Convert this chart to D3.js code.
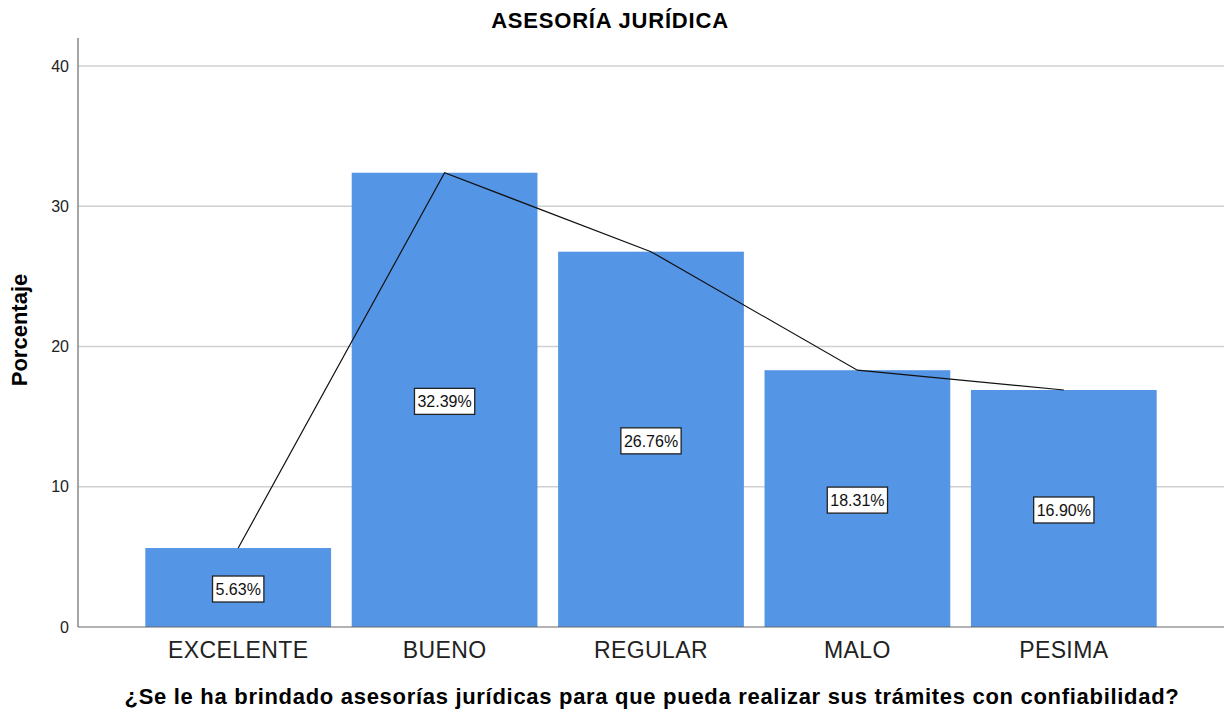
<!DOCTYPE html>
<html>
<head>
<meta charset="utf-8">
<script src="https://cdn.jsdelivr.net/npm/d3@7"></script>
<style>
  body { margin: 0; background: #fff; }
  text { font-family: "Liberation Sans", Arial, sans-serif; }
</style>
</head>
<body>
<script>
const width = 1229;
const height = 717;

// data
const categories = ["EXCELENTE", "BUENO", "REGULAR", "MALO", "PESIMA"];
const percentages = [5.63, 32.39, 26.76, 18.31, 16.90];
const yTicks = [0, 10, 20, 30, 40];

const plotLeft = 78, plotRight = 1224, plotTop = 38, plotBottom = 627;

const svg = d3.select("body").append("svg")
  .attr("width", width)
  .attr("height", height);

const x = d3.scaleBand()
  .domain(categories)
  .range([135, 1167])
  .paddingInner(0.1)
  .paddingOuter(0.05);

const y = d3.scaleLinear()
  .domain([0, 40])
  .range([plotBottom, 66]);

// gridlines
svg.append("g")
  .selectAll("line")
  .data(yTicks.filter(d => d > 0))
  .join("line")
  .attr("x1", plotLeft)
  .attr("x2", plotRight)
  .attr("y1", d => y(d))
  .attr("y2", d => y(d))
  .attr("stroke", "#d0d0d0")
  .attr("stroke-width", 1.5);

// bars
svg.append("g")
  .selectAll("rect")
  .data(percentages)
  .join("rect")
  .attr("x", (d, i) => x(categories[i]))
  .attr("y", d => y(d))
  .attr("width", x.bandwidth())
  .attr("height", d => plotBottom - y(d))
  .attr("fill", "#5595e5");

// line through bar tops
const line = d3.line()
  .x((d, i) => x(categories[i]) + x.bandwidth() / 2)
  .y(d => y(d));

svg.append("path")
  .datum(percentages)
  .attr("d", line)
  .attr("fill", "none")
  .attr("stroke", "#111")
  .attr("stroke-width", 1.2);

// axes
const yAxis = svg.append("g")
  .attr("transform", `translate(${plotLeft},0)`)
  .call(d3.axisLeft(y).tickValues(yTicks).tickSize(0).tickPadding(9));
yAxis.select(".domain").remove();
yAxis.selectAll("text").attr("font-size", 16).attr("fill", "#222");

svg.append("line")
  .attr("x1", plotLeft).attr("x2", plotLeft)
  .attr("y1", plotTop).attr("y2", plotBottom)
  .attr("stroke", "#888").attr("stroke-width", 1.5);

svg.append("line")
  .attr("x1", plotLeft).attr("x2", plotRight)
  .attr("y1", plotBottom).attr("y2", plotBottom)
  .attr("stroke", "#666").attr("stroke-width", 1.2);

const xAxis = svg.append("g")
  .attr("transform", `translate(0,${plotBottom})`)
  .call(d3.axisBottom(x).tickSize(0).tickPadding(0));
xAxis.select(".domain").remove();
xAxis.selectAll("text")
  .attr("font-size", 23)
  .attr("letter-spacing", 0.4)
  .attr("fill", "#222")
  .attr("y", 31)
  .attr("dy", 0);

// value labels
const labels = svg.append("g")
  .selectAll("g")
  .data(percentages)
  .join("g")
  .attr("transform", (d, i) => `translate(${x(categories[i]) + x.bandwidth() / 2},${(y(d) + plotBottom) / 2 + 1.5})`);

const boxes = labels.append("rect")
  .attr("fill", "#fff")
  .attr("stroke", "#222")
  .attr("stroke-width", 1.3);

labels.append("text")
  .attr("text-anchor", "middle")
  .attr("dy", "0.36em")
  .attr("font-size", 16)
  .attr("fill", "#111")
  .text(d => d.toFixed(2) + "%");

labels.each(function() {
  const g = d3.select(this);
  const bb = g.select("text").node().getBBox();
  g.select("rect")
    .attr("x", -bb.width / 2 - 3)
    .attr("y", -13)
    .attr("width", bb.width + 6)
    .attr("height", 26);
});

// titles
svg.append("text")
  .attr("x", 610).attr("y", 28)
  .attr("text-anchor", "middle")
  .attr("font-size", 22)
  .attr("letter-spacing", 0.8)
  .attr("font-weight", "bold")
  .text("ASESORÍA JURÍDICA");

svg.append("text")
  .attr("transform", "translate(27,330) rotate(-90)")
  .attr("text-anchor", "middle")
  .attr("font-size", 22)
  .attr("font-weight", "bold")
  .text("Porcentaje");

svg.append("text")
  .attr("x", 652).attr("y", 704)
  .attr("text-anchor", "middle")
  .attr("font-size", 22)
  .attr("letter-spacing", 0.7)
  .attr("font-weight", "bold")
  .text("¿Se le ha brindado asesorías jurídicas para que pueda realizar sus trámites con confiabilidad?");
</script>
</body>
</html>
